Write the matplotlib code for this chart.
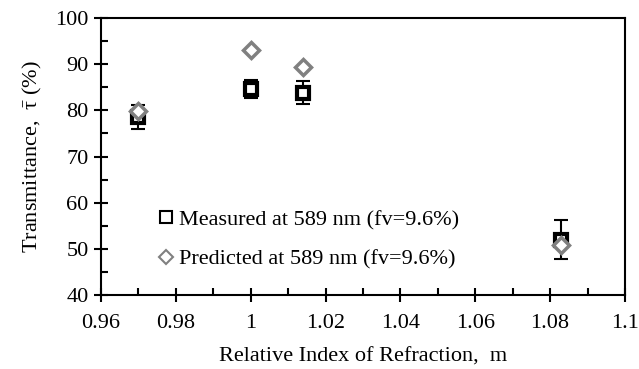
import matplotlib
matplotlib.use("Agg")
import matplotlib.pyplot as plt
from matplotlib.lines import Line2D
from matplotlib.ticker import MultipleLocator

plt.rcParams['font.family'] = ['Liberation Serif', 'DejaVu Serif']
plt.rcParams['mathtext.fontset'] = 'custom'
plt.rcParams['mathtext.rm'] = 'Liberation Serif'
plt.rcParams['mathtext.it'] = 'Liberation Serif'

# data
m_meas = [0.97, 1.0, 1.014, 1.083]
t_meas = [78.6, 84.6, 83.8, 52.0]
t_err = [2.6, 2.0, 2.5, 4.2]
m_pred = [0.97, 1.0, 1.014, 1.083]
t_pred = [79.8, 93.1, 89.4, 50.9]

lbl_meas = "Measured at 589 nm (fv=9.6%)"
lbl_pred = "Predicted at 589 nm (fv=9.6%)"

FS = 16

fig = plt.figure(figsize=(6.39, 3.69), dpi=100)
ax = fig.add_axes([0.158, 0.2005, 0.82, 0.7505])

ax.errorbar(m_meas, t_meas, yerr=t_err, fmt='none', ecolor='black',
            elinewidth=1.5, capsize=5, capthick=1.5, zorder=2)
ax.plot(m_meas, t_meas, linestyle='none', marker='s', markersize=8,
        markerfacecolor='white', markeredgecolor='black',
        markeredgewidth=3, zorder=3)
ax.plot(m_pred, t_pred, linestyle='none', marker='D', markersize=8,
        markerfacecolor='white', markeredgecolor='#808080',
        markeredgewidth=2.5, zorder=4)

ax.set_xlim(0.96, 1.1)
ax.set_ylim(40, 100)
ax.xaxis.set_minor_locator(MultipleLocator(0.01))
ax.yaxis.set_major_locator(MultipleLocator(10))
ax.yaxis.set_minor_locator(MultipleLocator(5))
ax.set_xticks([0.96, 0.98, 1.0, 1.02, 1.04, 1.06, 1.08, 1.1])
ax.set_xticklabels(["0.96", "0.98", "1", "1.02", "1.04", "1.06", "1.08", "1.1"])

ax.tick_params(which='major', direction='inout', length=10, width=1.5,
               labelsize=FS)
ax.tick_params(axis='x', which='major', pad=9)
ax.tick_params(axis='y', which='major', pad=4)
ax.tick_params(which='minor', direction='in', length=5, width=1.5)
ax.tick_params(top=False, right=False, which='both')
for s in ax.spines.values():
    s.set_linewidth(1.5)

ax.set_xlabel("Relative Index of Refraction,  m", fontsize=FS, labelpad=10)
ax.set_ylabel(r"Transmittance,  $\bar{\tau}$ (%)", fontsize=FS, labelpad=8)

handles = [
    Line2D([], [], linestyle='none', marker='s', markersize=8,
           markerfacecolor='white', markeredgecolor='black', markeredgewidth=1.5),
    Line2D([], [], linestyle='none', marker='D', markersize=7,
           markerfacecolor='white', markeredgecolor='#808080', markeredgewidth=1.5),
]
ax.legend(handles, [lbl_meas, lbl_pred], loc='lower left',
          bbox_to_anchor=(0.095, 0.06), frameon=False, fontsize=FS,
          handlelength=0.6, handletextpad=0.25, labelspacing=0.85,
          borderaxespad=0)

fig.savefig("out.png", dpi=100)
